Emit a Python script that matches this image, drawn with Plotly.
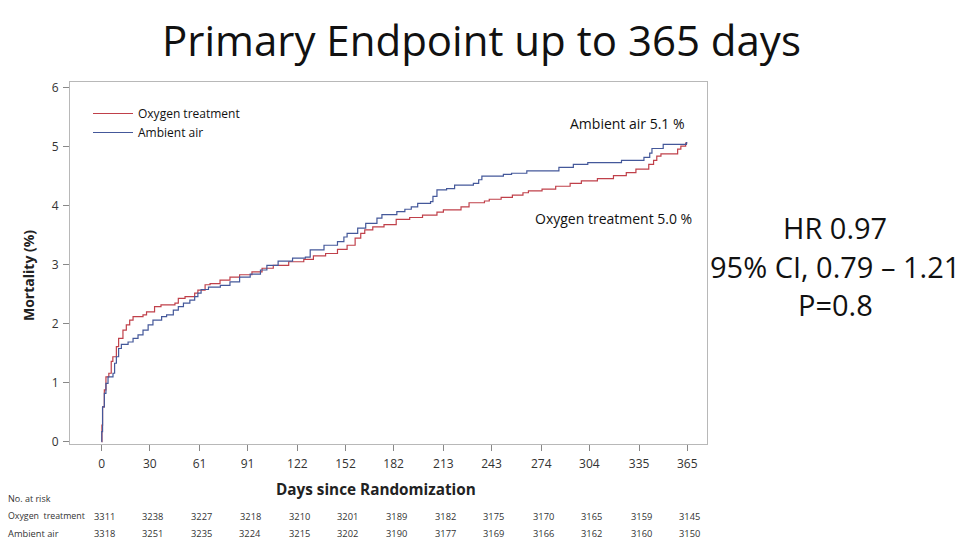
import plotly.graph_objects as go

# ---- data ----
ox_days = [0, 0.2, 0.6, 1.7, 2.7, 4.5, 6.0, 7.0, 9.2, 10.6, 13.3, 15.4, 17.5, 19.6, 25.8, 28, 33, 37,
           45.7, 47.8, 52, 58, 60, 64.5, 67.6, 73.8, 80, 86, 93.7, 100, 107, 116.6, 126, 132, 139.6,
           147, 153, 158, 161.5, 164, 169, 176, 183.6, 192, 200, 209, 213, 224, 229, 238.6, 241.6,
           249, 256, 262.6, 266, 274.5, 283, 292, 299, 309, 319, 327, 333, 341, 344, 346, 348.6,
           359, 361, 364, 365]
ox_vals = [0, 0.28, 0.59, 0.88, 1.10, 1.16, 1.36, 1.44, 1.61, 1.75, 1.89, 1.98, 2.06, 2.12, 2.15, 2.20,
           2.29, 2.32, 2.35, 2.43, 2.46, 2.52, 2.57, 2.66, 2.68, 2.74, 2.79, 2.83, 2.88, 2.94, 2.99,
           3.05, 3.09, 3.15, 3.19, 3.26, 3.33, 3.45, 3.53, 3.59, 3.64, 3.68, 3.77, 3.80, 3.84, 3.89,
           3.93, 3.98, 4.05, 4.08, 4.11, 4.14, 4.18, 4.22, 4.25, 4.28, 4.33, 4.38, 4.42, 4.46, 4.51,
           4.56, 4.62, 4.70, 4.77, 4.84, 4.88, 4.96, 5.01, 5.06, 5.06]

aa_days = [0, 0.1, 0.6, 1.7, 2.7, 4, 7.1, 8.1, 9.2, 10.6, 12.3, 16.5, 19.6, 22.7, 25.8, 29, 32, 37.4,
           40.5, 44.7, 47.8, 51, 55, 58, 60, 62, 66.6, 74, 80, 86, 92.6, 99, 103, 110, 119, 127, 130,
           138.6, 147, 151, 153, 159.6, 164.6, 171.6, 174.7, 184, 189, 193, 197, 205, 206.5, 209,
           215, 220, 231.7, 235, 237, 250.4, 255.5, 265, 285, 294, 303, 324, 338, 341.6, 343, 350,
           364.5, 365]
aa_vals = [0, 0.17, 0.59, 0.82, 0.99, 1.10, 1.16, 1.33, 1.44, 1.58, 1.65, 1.69, 1.75, 1.81, 1.89, 1.98,
           2.06, 2.12, 2.15, 2.23, 2.29, 2.35, 2.40, 2.46, 2.52, 2.58, 2.62, 2.65, 2.71, 2.79, 2.84,
           2.91, 2.99, 3.06, 3.11, 3.13, 3.25, 3.33, 3.39, 3.47, 3.53, 3.62, 3.70, 3.79, 3.85, 3.90,
           3.94, 3.98, 4.04, 4.07, 4.16, 4.27, 4.29, 4.35, 4.38, 4.44, 4.50, 4.53, 4.55, 4.59, 4.65,
           4.70, 4.73, 4.77, 4.82, 4.89, 4.97, 5.04, 5.07, 5.07]

tick_days = [0, 30, 61, 91, 122, 152, 182, 213, 243, 274, 304, 335, 365]
risk_oxygen = [3311, 3238, 3227, 3218, 3210, 3201, 3189, 3182, 3175, 3170, 3165, 3159, 3145]
risk_ambient = [3318, 3251, 3235, 3224, 3215, 3202, 3190, 3177, 3169, 3166, 3162, 3160, 3150]
y_ticks = [0, 1, 2, 3, 4, 5, 6]

RED = "#c0404a"
BLUE = "#44589a"
FONT = "Open Sans"

fig = go.Figure()
fig.add_trace(go.Scatter(x=ox_days, y=ox_vals, mode="lines", line_shape="hv",
                         line=dict(color=RED, width=1.2), name="Oxygen treatment"))
fig.add_trace(go.Scatter(x=aa_days, y=aa_vals, mode="lines", line_shape="hv",
                         line=dict(color=BLUE, width=1.2), name="Ambient air"))

L, R, T, B = 70, 253, 82, 96
W, H = 960, 540
pw, ph = W - L - R, H - T - B

def px_x(px):
    return (px - L) / pw

def px_y(py):
    return (H - B - py) / ph

ann = []
# title
ann.append(dict(text="Primary Endpoint up to 365 days", xref="paper", yref="paper",
                x=px_x(481), y=px_y(40), xanchor="center", yanchor="middle", showarrow=False,
                font=dict(family=FONT, size=42, color="#111")))
# curve labels
ann.append(dict(text="Ambient air 5.1 %", xref="x", yref="y", x=365, y=5.39,
                xanchor="right", yanchor="middle", showarrow=False,
                font=dict(family=FONT, size=14, color="#111")))
ann.append(dict(text="Oxygen treatment 5.0 %", xref="x", yref="y", x=369, y=3.79,
                xanchor="right", yanchor="middle", showarrow=False,
                font=dict(family=FONT, size=14, color="#111")))
# axis titles
ann.append(dict(text="<b>Days since Randomization</b>", xref="paper", yref="paper",
                x=px_x(375.5), y=px_y(489), xanchor="center", yanchor="middle", showarrow=False,
                font=dict(family=FONT, size=15.3, color="#222")))
ann.append(dict(text="<b>Mortality (%)</b>", xref="paper", yref="paper", textangle=-90,
                x=px_x(28), y=px_y(276), xanchor="center", yanchor="middle", showarrow=False,
                font=dict(family=FONT, size=14, color="#222")))
# stats text
for txt, yy in [("HR 0.97", 227), ("95% CI, 0.79 \u2013 1.21", 266), ("P=0.8", 304)]:
    ann.append(dict(text=txt, xref="paper", yref="paper", x=px_x(835), y=px_y(yy),
                    xanchor="center", yanchor="middle", showarrow=False,
                    font=dict(family=FONT, size=29, color="#111")))
# risk table
ann.append(dict(text="No. at risk", xref="paper", yref="paper", x=px_x(6), y=px_y(498),
                xanchor="left", yanchor="middle", showarrow=False,
                font=dict(family=FONT, size=9, color="#333")))
ann.append(dict(text="Oxygen  treatment", xref="paper", yref="paper", x=px_x(6), y=px_y(516),
                xanchor="left", yanchor="middle", showarrow=False,
                font=dict(family=FONT, size=8.8, color="#333")))
ann.append(dict(text="Ambient air", xref="paper", yref="paper", x=px_x(6), y=px_y(533),
                xanchor="left", yanchor="middle", showarrow=False,
                font=dict(family=FONT, size=9.3, color="#333")))
for d, a, b in zip(tick_days, risk_oxygen, risk_ambient):
    ann.append(dict(text=str(a), xref="x", yref="paper", x=d + 1.5, y=px_y(516),
                    xanchor="center", yanchor="middle", showarrow=False,
                    font=dict(family=FONT, size=9.3, color="#333")))
    ann.append(dict(text=str(b), xref="x", yref="paper", x=d + 1.5, y=px_y(533),
                    xanchor="center", yanchor="middle", showarrow=False,
                    font=dict(family=FONT, size=9.3, color="#333")))

fig.update_layout(
    width=W, height=H,
    margin=dict(l=L, r=R, t=T, b=B),
    paper_bgcolor="white", plot_bgcolor="white",
    showlegend=True,
    legend=dict(x=px_x(88), y=px_y(99), xanchor="left", yanchor="top",
                bgcolor="rgba(0,0,0,0)", font=dict(family=FONT, size=12, color="#111"),
                tracegroupgap=0, itemwidth=40),
    annotations=ann,
    xaxis=dict(range=[-19.7, 377.3], tickvals=tick_days, ticktext=[str(t) for t in tick_days],
               showgrid=False, zeroline=False, showline=True, linecolor="#b8b8b8", linewidth=1,
               mirror=True, ticks="outside", ticklen=6, tickcolor="#888", ticklabelstandoff=3,
               tickfont=dict(family=FONT, size=12, color="#333")),
    yaxis=dict(range=[-0.039, 6.097], tickvals=y_ticks, showgrid=False, zeroline=False,
               showline=True, linecolor="#b8b8b8", linewidth=1, mirror=True,
               ticks="outside", ticklen=6, tickcolor="#888", ticklabelstandoff=2,
               tickfont=dict(family=FONT, size=12, color="#333")),
)

fig.write_html("out.html", config={"displayModeBar": False},
               post_script="document.body.style.margin='0';")
